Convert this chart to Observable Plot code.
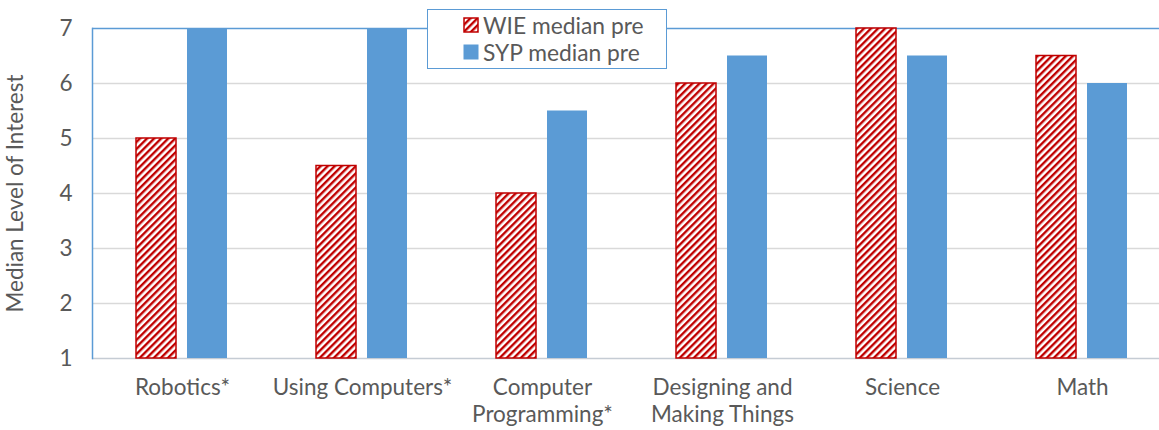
<!DOCTYPE html>
<html>
<head>
<meta charset="utf-8">
<script src="https://cdn.jsdelivr.net/npm/d3@7"></script>
<script src="https://cdn.jsdelivr.net/npm/@observablehq/plot@0.6"></script>
<style>
  html, body { margin: 0; padding: 0; background: #fff; overflow: hidden; }
  #wrap { position: relative; width: 1159px; height: 430px; font-family: Lato, "Open Sans", sans-serif; color: #595959; }
  #legend { position: absolute; left: 427px; top: 9px; width: 238px; height: 58px; border: 1.5px solid #5B9BD5; background: #fff; }
  .item { position: absolute; left: 35px; display: flex; align-items: center; font-size: 22.8px; height: 26px; line-height: 26px; }
  .item svg { margin-right: 4px; }
</style>
</head>
<body>
<div id="wrap">
  <div id="legend"></div>
</div>
<script>
// ---- data ----
const categories = ["Robotics*", "Using Computers*", "Computer\nProgramming*", "Designing and\nMaking Things", "Science", "Math"];
const seriesNames = ["WIE median pre", "SYP median pre"];
const wieValues = [5, 4.5, 4, 6, 7, 6.5];
const sypValues = [7, 7, 5.5, 6.5, 6.5, 6];
const yTicks = [1, 2, 3, 4, 5, 6, 7];
const gridValues = [2, 3, 4, 5, 6];

// ---- styles ----
const RED = "#C00000";
const BLUE = "#5B9BD5";
const TEXT = "#595959";

const wieRows = categories.map((c, i) => ({category: c, series: "WIE", value: wieValues[i]}));
const sypRows = categories.map((c, i) => ({category: c, series: "SYP", value: sypValues[i]}));

const chart = Plot.plot({
  width: 1159,
  height: 430,
  marginLeft: 91,
  marginRight: -13,
  marginTop: 28,
  marginBottom: 72,
  style: {fontFamily: "Lato, 'Open Sans', sans-serif", fontSize: "22px", color: TEXT, background: "#fff", overflow: "hidden"},
  fx: {domain: categories, padding: 0},
  x: {domain: ["WIE", "SYP"], paddingInner: 0.21, paddingOuter: 0.846, axis: null},
  y: {domain: [1, 7]},
  marks: [
    Plot.ruleY(gridValues, {stroke: "#D9D9D9", strokeWidth: 1.5}),
    Plot.ruleY([1], {stroke: "#C5CCD4", strokeWidth: 1.5}),
    Plot.ruleY([7], {stroke: BLUE, strokeWidth: 1.5}),
    Plot.frame({anchor: "left", stroke: BLUE, strokeWidth: 1.5, facetAnchor: "left"}),
    Plot.barY(wieRows, {fx: "category", x: "series", y1: 1, y2: "value", fill: "url(#hatch)", stroke: RED, strokeWidth: 1.5}),
    Plot.barY(sypRows, {fx: "category", x: "series", y1: 1, y2: "value", fill: BLUE}),
    Plot.axisY({ticks: yTicks, tickFormat: "d", tickSize: 0, tickPadding: 20, label: "Median Level of Interest", labelAnchor: "center", labelArrow: "none", labelOffset: 85, fontSize: 22.5}),
    Plot.axisFx({anchor: "bottom", tickSize: 0, tickPadding: 18, label: null, lineHeight: 1.18, fontSize: 22.5})
  ]
});

// hatch pattern definition
const ns = "http://www.w3.org/2000/svg";
function addPattern(svg, id) {
  const defs = document.createElementNS(ns, "defs");
  defs.innerHTML = `<pattern id="${id}" patternUnits="userSpaceOnUse" width="5" height="5" patternTransform="rotate(45)">
      <rect width="5" height="5" fill="#fff"></rect>
      <rect width="2.4" height="5" fill="${RED}"></rect>
    </pattern>`;
  svg.insertBefore(defs, svg.firstChild);
}
addPattern(chart, "hatch");
document.getElementById("wrap").insertBefore(chart, document.getElementById("legend"));

// legend
const legend = document.getElementById("legend");
seriesNames.forEach((name, i) => {
  const item = document.createElement("div");
  item.className = "item";
  item.style.top = (i === 0 ? 2 : 29) + "px";
  const sw = document.createElementNS(ns, "svg");
  sw.setAttribute("width", 16);
  sw.setAttribute("height", 16);
  if (i === 0) {
    addPattern(sw, "hatchLegend");
    const r = document.createElementNS(ns, "rect");
    r.setAttribute("x", 1); r.setAttribute("y", 1); r.setAttribute("width", 14); r.setAttribute("height", 14);
    r.setAttribute("fill", "url(#hatchLegend)"); r.setAttribute("stroke", RED); r.setAttribute("stroke-width", 1.5);
    sw.appendChild(r);
  } else {
    const r = document.createElementNS(ns, "rect");
    r.setAttribute("x", 0.5); r.setAttribute("y", 0.5); r.setAttribute("width", 15); r.setAttribute("height", 15);
    r.setAttribute("fill", BLUE);
    sw.appendChild(r);
  }
  item.appendChild(sw);
  const t = document.createElement("span");
  t.textContent = name;
  item.appendChild(t);
  legend.appendChild(item);
});
</script>
</body>
</html>
